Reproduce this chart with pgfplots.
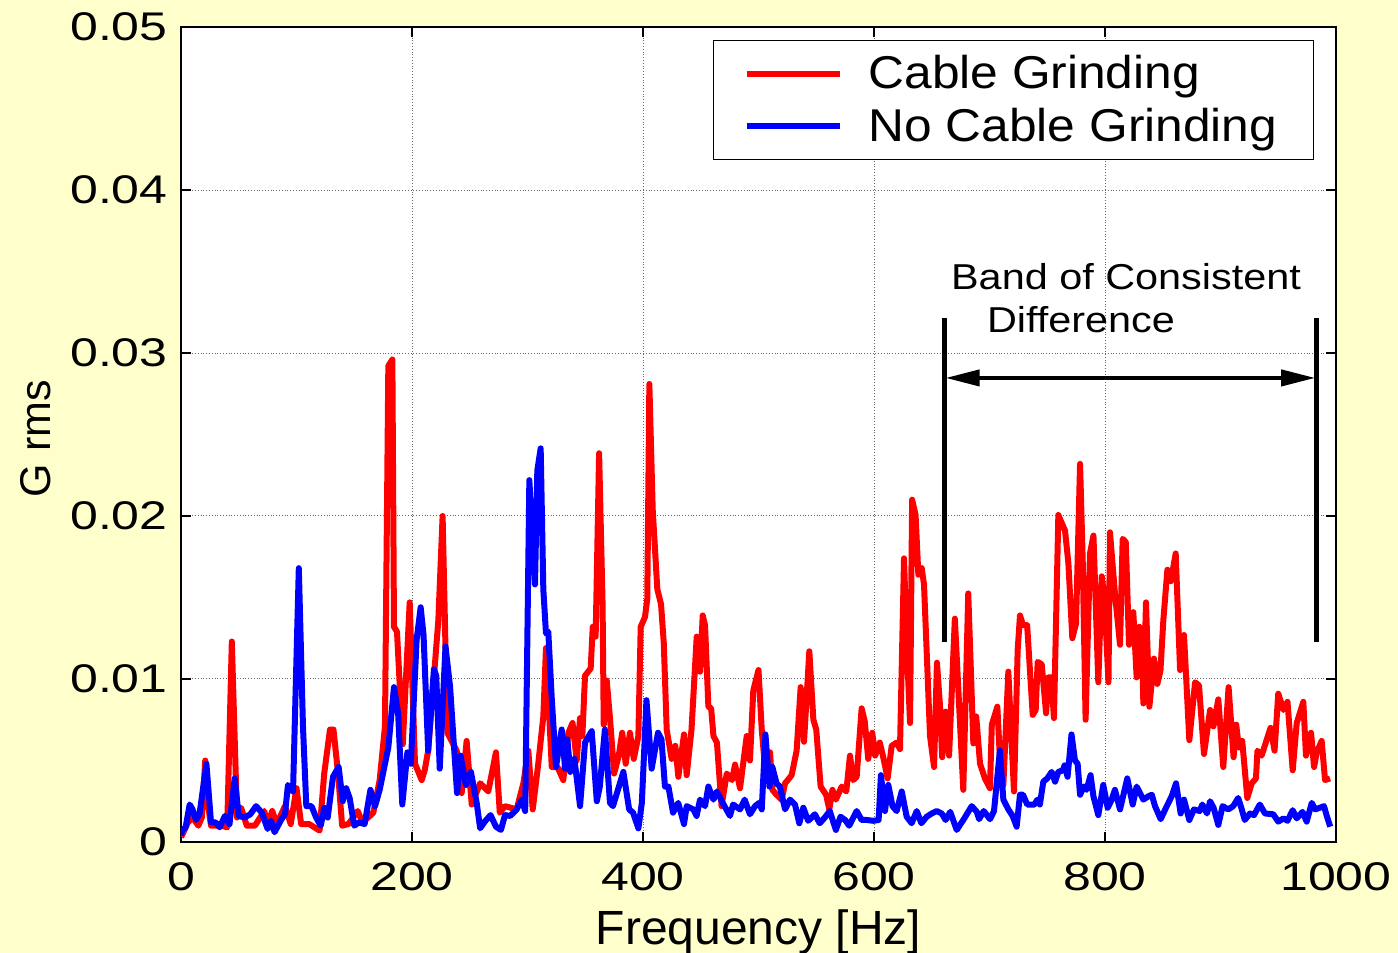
\documentclass[border=0pt]{standalone}
\usepackage{pgfplots}
\pgfplotsset{compat=1.18}
\usepackage{pgfplotstable}
\usepackage{fontspec}
\setmainfont{Liberation Sans}
\newfontfamily\tickfamily[FakeStretch=1.25]{Liberation Sans}
\newfontfamily\annfamily[FakeStretch=1.15]{Liberation Sans}
\newfontfamily\legfamily[FakeStretch=1.08]{Liberation Sans}
\usetikzlibrary{arrows.meta}
\definecolor{bgyellow}{RGB}{255,255,204}

\pgfplotstableread{
f v
0 0.3
1 0.43
6 1.2
10 1.5
15 1.0
18 1.5
21 5.0
24 2.0
26 1.0
35 1.0
40 0.9
44 12.3
48.5 1.5
52 2.1
57 1.0
64 1.0
72 1.9
75 1.1
79 1.9
83 1.1
90 2.2
95 1.1
100 3.3
104 1.1
111 1.1
120 0.7
124 4.2
129 6.9
132 6.9
136 4.2
139.5 1.0
145 1.1
153 1.9
157 1.2
162 1.5
166.5 1.8
172 3.8
176.6 7.1
179.5 29.2
183 29.6
184.4 13.2
187 12.9
192 6.0
198 14.7
202.6 4.8
208.4 3.8
211 4.4
214 5.6
222.8 13.6
226.5 20.0
230.6 6.7
238.7 5.6
243 3.0
247.3 6.2
251.7 2.3
259 3.6
266 3.1
272.7 5.5
276 1.8
280.5 2.2
290.6 2.0
296.4 3.6
300.7 5.6
304.5 2.0
309 4.6
313.7 7.7
316 11.9
321 4.6
326 4.6
331 3.8
335.4 6.7
339 7.3
342.6 5.0
345.5 7.6
347.5 6.5
349.8 10.2
354.7 10.65
356.5 13.2
359 12.6
362 23.85
365 14.6
366 7.2
368.6 9.9
371.4 7.6
375 4.2
379 5.3
382 6.7
385 4.8
388.7 6.7
392 5.1
396 6.5
398 13.2
401.7 13.8
403.7 14.9
405.5 28.1
408.4 20.4
412.4 15.5
415.6 14.6
418 12.2
420.5 6.9
424.8 5.1
428 5.9
430.6 4.0
435.5 6.6
437.8 4.1
442 6.9
446.5 12.6
449.4 10.45
451.7 13.9
453.7 13.3
456.6 8.3
459 8.2
461 6.5
464 6.1
468 2.2
472.5 4.2
477 3.8
479.7 4.75
484 3.3
486.6 4.75
489.8 6.5
492.6 5.0
495.5 9.3
500 10.55
502.8 6.9
505.6 4.6
510 5.5
512 3.2
515.6 2.9
520 2.6
523 3.6
528.7 4.1
533 5.6
536.5 9.5
539.4 6.15
544 11.7
547.5 7.5
550 6.9
553.8 3.4
558.5 2.9
561.3 2.0
564 3.2
567 2.6
572 3.4
576 3.1
579.2 5.3
582 3.8
585 4.0
589.3 8.2
592 7.4
595 5.1
598.5 6.7
601 5.3
605 6.1
608 5.2
611.8 3.9
615.3 5.9
619.6 6.1
622.5 5.7
626 17.4
628.3 12.2
631.2 7.3
633 21.0
636 20.06
638.4 16.4
641.3 16.8
643.3 15.8
648.5 6.5
652 4.6
654.5 11.0
657 8.5
659 5.2
662 8.0
665 5.3
670 13.7
677.3 3.2
681.6 15.25
686 6.05
688.5 7.7
691.8 4.8
696 3.9
700.4 3.3
702 7.2
706.8 8.3
709.5 4.4
712 3.5
716.3 10.45
721.2 3.1
724.4 11.8
726.4 13.9
729 13.3
732.6 13.3
737.4 7.8
740 8.1
741.7 11.05
745.2 10.9
749 7.9
751 10.1
753.5 10.1
755.8 7.6
759.6 20.06
765.4 19.1
768.3 17.1
771.7 12.5
774.9 13.4
778.4 23.2
780.7 17.3
783.2 7.5
787 17.7
790 18.8
794.2 9.8
797.2 16.3
799.5 15.0
803 9.8
804.3 19.0
808.6 15.25
813 12.1
815.3 18.6
818 18.4
820.8 12.1
824.5 14.1
827.4 10.1
829.7 13.2
831.7 12.9
833.2 8.5
835.5 14.7
838.4 8.3
842.4 11.25
845.3 9.7
848 10.5
850.5 13.6
854 16.7
857 16.0
861.2 17.7
865 10.55
868.4 12.7
873 6.25
878 9.8
881.4 9.6
885.7 5.4
891 8.1
893.9 7.1
898.1 8.75
902.4 4.6
907 9.5
911.3 5.2
913.6 7.2
915.9 5.8
918.8 6.2
923.2 2.7
927 3.6
930.7 3.9
932 5.6
935.6 5.3
943.3 7.0
946.8 5.6
950 9.1
954.5 8.1
958 8.6
962.5 4.4
966 7.3
971.7 8.6
974 5.3
978.4 6.7
981 4.6
983.3 5.5
987.6 6.2
990.5 3.8
994.8 3.9
}\redtab

\pgfplotstableread{
f v
0 0.4
1 0.7
4 0.9
7.5 2.3
10 2.0
13 1.35
16 1.7
22 4.8
26 1.2
30 1.2
33.5 0.9
38 1.6
42 1.1
46.5 3.9
50 1.6
55 1.5
60 1.7
65 2.2
70 1.8
75 0.8
78 1.3
81 0.6
87 1.4
90 1.7
92.6 3.5
97 3.1
102 16.8
105.6 7.1
108.5 2.2
113 2.2
117 1.5
121 1.0
124 2.1
127 1.5
131.6 4.0
136.5 4.6
140 2.5
143 3.3
146 2.7
150 1.0
154 1.2
159 1.1
164 3.2
168 2.2
172 3.2
179.5 5.8
184.4 9.5
188 7.9
191.6 2.3
196 5.5
199 4.8
204 12.4
207.5 14.4
210 12.7
214 5.6
219 10.6
221 10.2
224 4.5
229 12.0
233 9.5
239 3.0
242 5.3
246.7 3.5
251 4.3
256 2.4
259 0.84
263 1.25
268 1.65
272.7 0.94
277 0.74
280.5 1.65
285 1.6
290.6 2.0
295 2.6
298 1.9
301.6 22.2
306.5 15.8
308.5 22.8
311.4 24.15
313.7 15.5
316 12.8
318 12.9
321 8.8
324.7 4.6
329.6 6.9
332.6 4.5
334.5 6.3
337 4.3
340.6 5.1
345.5 2.2
349.8 6.1
355.6 6.8
360 2.5
362.6 3.4
367 6.9
371.4 2.4
374 2.2
383 4.3
388 2.0
391.4 1.8
396 0.84
399 2.4
403 8.7
407.5 4.5
413 6.7
416 6.3
419 3.4
422 3.4
426 1.8
430.5 2.4
435.5 1.1
437.8 2.2
443.6 2.0
446.4 1.6
449.4 2.6
453.7 2.2
456.6 3.4
461 2.6
464 3.1
469 2.4
475.3 1.6
478 2.3
484 2.0
488 2.6
492.6 1.7
497 2.2
500.6 2.4
502.8 2.0
506 6.6
509.5 3.4
512 4.6
515.6 3.6
518.5 3.4
523 2.0
527.3 2.6
531.6 2.3
535.3 1.15
538.8 2.1
543 1.3
548.8 1.7
553 1.15
557.4 1.5
561.7 1.9
567 0.74
571 1.55
575 1.35
578.5 1.0
585 1.9
589.3 1.35
593.7 1.35
599.5 1.3
604 1.35
606 4.1
609.5 1.9
612.4 3.5
616 2.2
619.6 1.9
624 3.1
628.3 1.55
632.6 1.15
637 1.9
641 1.15
645.6 1.55
650 1.75
654.3 1.9
658.6 1.75
662 1.35
666 1.85
671.6 0.74
677.3 1.35
684.6 2.2
689 1.85
691 1.4
695 1.9
700.4 1.4
703.9 1.9
709 5.6
712 2.6
716.3 2.0
720 1.6
723.5 0.94
726.4 2.9
729 2.9
732.6 2.3
739 2.3
741.4 2.6
743.6 2.3
746.6 3.7
750 3.9
753.8 4.3
756.8 3.7
759.6 4.3
763.5 4.4
765 4.7
767.6 4.0
771 6.6
774 5.0
776.3 4.8
778.4 2.9
781.8 3.4
784 3.2
787.5 4.1
790 2.8
794.2 1.65
798.5 3.5
802.3 2.1
805.8 2.6
808.6 3.2
813 2.0
819.3 3.9
824 2.3
827.4 3.4
833.2 2.6
837.5 2.8
840.5 2.9
843.3 2.2
848.2 1.4
852.8 2.1
857.7 2.8
861.5 3.6
865.5 1.75
868.4 2.6
873 1.35
877 2.0
882 1.9
884.3 2.3
888.3 1.75
891 2.5
894 2.1
898.1 1.05
901.8 2.2
906.7 2.0
911 2.2
915.3 2.7
918 2.1
921 1.35
925.5 1.75
929 1.65
934 2.3
938.5 1.75
945.7 1.7
950 1.25
954.5 1.45
958 1.3
962.5 1.95
966 1.45
971 1.85
974.6 1.25
979 2.4
982 2.0
986 2.1
989.6 2.2
992 1.6
995 0.94
}\bluetab

\begin{document}
\begin{tikzpicture}
\fill[bgyellow] (0,0) rectangle (699pt,476.5pt);
\path[use as bounding box] (0,0) rectangle (699pt,476.5pt);
\begin{axis}[
  at={(90.5pt,55.5pt)}, anchor=south west,
  scale only axis, width=577.5pt, height=407.5pt,
  xmin=0, xmax=1000, ymin=0, ymax=0.05,
  scaled y ticks=false, scaled x ticks=false,
  xtick={0,200,400,600,800,1000},
  xticklabels={0,200,400,600,800,1000},
  ytick={0,0.01,0.02,0.03,0.04,0.05},
  yticklabels={0,0.01,0.02,0.03,0.04,0.05},
  tick align=inside, tick pos=both, major tick length=5pt,
  tick style={black, line width=0.8pt},
  grid=major,
  major grid style={densely dotted, black!60, line width=0.5pt},
  axis line style={black, line width=1.3pt},
  axis background/.style={fill=white},
  xticklabel style={font=\tickfamily\fontsize{20}{20}\selectfont, inner sep=0pt, anchor=north, yshift=-10pt},
  yticklabel style={font=\tickfamily\fontsize{20}{20}\selectfont, inner sep=0pt, anchor=east, xshift=-6.5pt},
  xlabel={Frequency [Hz]},
  xlabel style={font=\fontsize{24}{24}\selectfont, at={(axis description cs:0.5,0)}, anchor=base, yshift=-51.5pt},
  ylabel={G rms},
  ylabel style={font=\fontsize{21.5}{21.5}\selectfont, at={(axis description cs:-0.1130,0.495)}, anchor=base},
  legend style={at={(axis description cs:0.4606,0.984)}, anchor=north west,
    draw=black, line width=0.6pt, fill=white,
    font=\legfamily\fontsize{23}{23}\selectfont,
    inner xsep=15pt, inner ysep=7.5pt, row sep=8pt,
    nodes={inner sep=0pt},
    /tikz/every odd column/.append style={column sep=13pt}},
  legend cell align=left,
  legend image code/.code={\draw[#1] (0pt,0pt) -- (46.5pt,0pt);},
]
\addplot[red, line width=3pt, line join=round] table[x=f, y expr=\thisrow{v}*0.001] {\redtab};
\addlegendentry{Cable Grinding}
\addplot[blue, line width=3pt, line join=round] table[x=f, y expr=\thisrow{v}*0.001] {\bluetab};
\addlegendentry{No Cable Grinding\hspace*{3pt}}
\draw[black, line width=2.5pt] (axis cs:661,0.03215) -- (axis cs:661,0.01229);
\draw[black, line width=2.5pt] (axis cs:983.1,0.03215) -- (axis cs:983.1,0.01229);
\draw[black, line width=2pt, {Triangle[length=17pt,width=8pt]}-{Triangle[length=17pt,width=8pt]}] (axis cs:662,0.02847) -- (axis cs:982,0.02847);
\node[anchor=base, font=\annfamily\fontsize{18}{18}\selectfont, inner sep=0pt] at (axis cs:818.2,0.03387) {Band of Consistent};
\node[anchor=base, font=\annfamily\fontsize{18}{18}\selectfont, inner sep=0pt] at (axis cs:779.2,0.03123) {Difference};
\end{axis}
\end{tikzpicture}
\end{document}
